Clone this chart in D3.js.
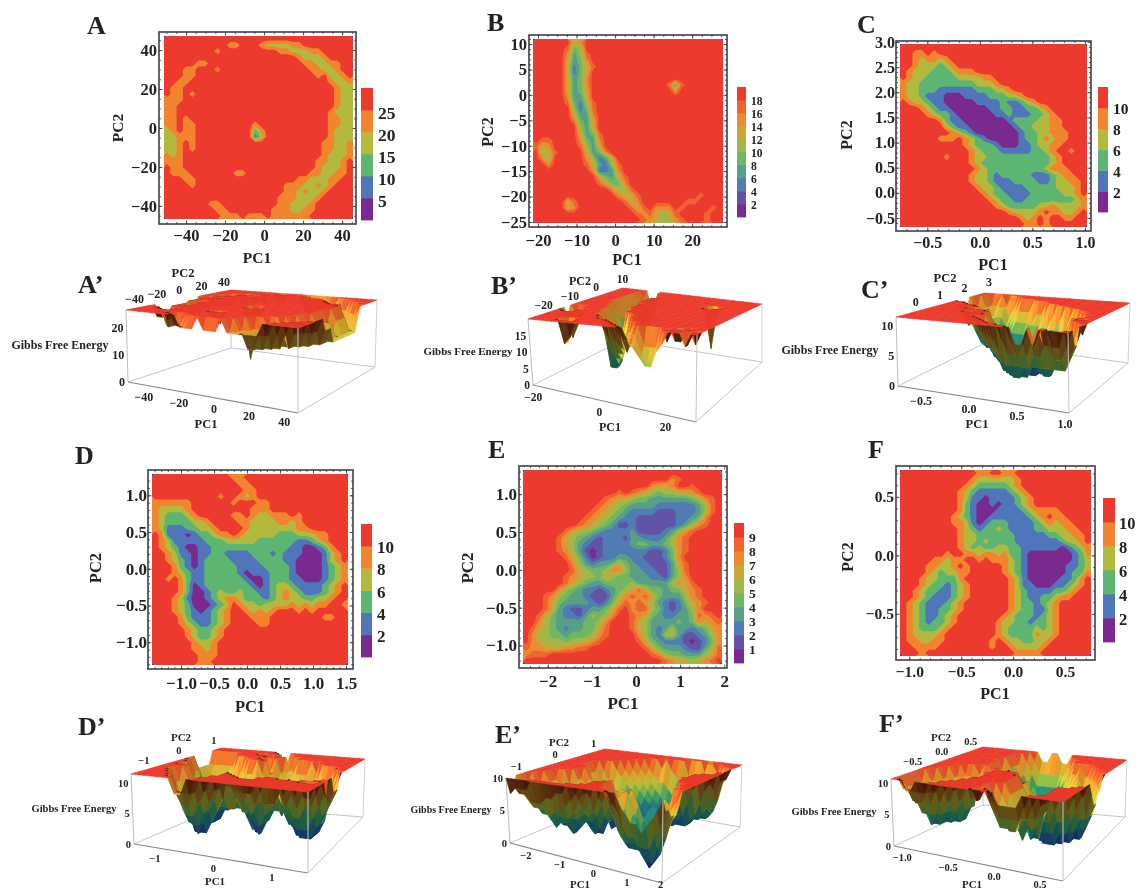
<!DOCTYPE html>
<html>
<head>
<meta charset="utf-8">
<script src="https://cdn.jsdelivr.net/npm/d3@7"></script>
<style>
  html, body { margin: 0; padding: 0; background: #fff; overflow: hidden; }
  text { font-family: "Liberation Serif", serif; font-weight: bold; fill: #222; }
  .tick line { stroke: #333; stroke-width: 0.8; }
</style>
</head>
<body>
<svg id="fig" width="1136" height="889"></svg>
<script>
// free energy landscapes, one row per line of the map, top row first.
// each digit is the colour band of that cell (0 = lowest), spaces are only for counting.
var gridA = [
"55555 55555 55555 55555 55555 55555",
"55555 55555 44555 43333 44555 55555",
"55555 55545 55555 55544 33344 55555",
"55555 55555 55555 55555 54333 45555",
"55555 44555 55555 55555 55443 34455",
"55544 55545 55555 55555 55544 33455",
"55544 55555 55555 55555 55554 53345",
"55445 55555 55555 55555 55555 54334",
"54455 55555 55555 55555 55555 55433",
"54454 55555 55555 55555 55555 55433",
"44455 55555 55555 55555 55555 55433",
"44555 55555 55555 55555 55555 55433",
"44555 55555 55555 55555 55555 54333",
"44545 55555 55555 55555 55555 54433",
"44544 55555 55554 55555 55555 54433",
"34544 55555 55552 45555 55555 54333",
"33444 55555 55551 35555 55555 54333",
"33454 55555 55555 55555 55555 44334",
"33454 55555 55555 55555 55555 44334",
"43455 55555 55555 55555 55555 43334",
"44455 55555 55555 55555 55554 43345",
"54455 55555 55555 55555 55554 33345",
"54445 55555 54455 55555 55544 33445",
"55544 55555 55555 55555 54433 34455",
"55554 55555 55555 55554 44334 34555",
"55555 55555 55555 55554 43433 45555",
"55555 55555 55555 55544 43334 55555",
"55555 55445 55555 55544 33345 55555",
"55555 55544 55555 55444 33445 55555",
"55555 55554 44544 45444 44455 55555"
];
var gridB = [
"99999 96799 99999 99999 99999 99999",
"99999 84599 99999 99999 99999 99999",
"99999 73589 99999 99999 99999 99999",
"99999 63479 99999 99999 99999 99999",
"99999 62468 99999 99999 99999 99999",
"99999 62469 99999 99999 99999 99999",
"99999 63479 99999 99999 99999 99999",
"99999 63479 99999 99999 98389 99999",
"99999 63469 99999 99999 99799 99999",
"99999 73369 99999 99999 99999 99999",
"99999 84258 99999 99999 99999 99999",
"99999 95248 99999 99999 99999 99999",
"99999 96337 99999 99999 99999 99999",
"99999 98436 99999 99999 99999 99999",
"99999 99536 99999 99999 99999 99999",
"99999 99634 89999 99999 99999 99999",
"98899 99743 79999 99999 99999 99999",
"86799 99853 69999 99999 99999 99999",
"95689 99963 47999 99999 99999 99999",
"97599 99975 23699 99999 99999 99999",
"99799 99986 32589 99999 99999 99999",
"99999 99997 22379 99999 99999 99999",
"99999 99999 64368 99999 99999 99999",
"99999 99999 86447 99999 99999 99999",
"99999 99999 99755 89999 99999 99999",
"99999 99999 99976 68999 99999 98999",
"99999 68999 99998 67999 99998 89999",
"99999 67999 99999 86897 77989 99989",
"99999 99999 99999 98786 56899 99899",
"99999 99999 99999 99876 55789 99899"
];
var gridC = [
"55555 55555 55555 55555 55555 55555",
"55445 45555 55555 55555 55555 55555",
"55434 43455 55555 55555 55555 55555",
"55433 32345 55555 55555 55555 55555",
"54333 22234 44555 55555 55555 55555",
"54332 22223 33344 55555 55555 55555",
"43322 22222 22333 45555 55555 55555",
"43322 21111 11222 33455 55555 55555",
"43321 11000 11112 22334 55555 55555",
"54332 11000 00111 12112 34555 55555",
"55543 21100 00001 12211 22345 55555",
"55554 32210 00000 11211 12234 55555",
"55555 54211 00000 00122 22334 45555",
"55555 55321 10000 00012 23334 45555",
"55555 55543 21000 00001 22334 44555",
"55555 54445 43210 00001 22343 44555",
"55555 55555 43222 10001 12334 45555",
"55555 55555 54322 21111 12234 55455",
"55555 55455 54332 22222 22223 45555",
"55555 55555 54322 22222 22223 45555",
"55555 55555 55432 22222 22234 44555",
"55555 55555 54332 12222 21112 34455",
"55555 55555 54332 11122 22112 33445",
"55555 55555 55433 21111 22222 33345",
"55555 55555 55543 22111 12222 23345",
"55555 55555 55554 32211 22222 22234",
"55555 55555 55555 43222 22334 33334",
"55555 55555 55555 55433 33454 43345",
"55555 55555 55555 55554 34545 54455",
"55555 55555 55555 55555 44545 55555"
];
var gridD = [
"55555 55555 55445 55555 55555 55555",
"55555 55555 55544 55555 55555 55555",
"55555 55555 55554 45555 55555 55555",
"55555 55555 45543 45555 55555 55555",
"44444 45555 55455 54455 55555 55555",
"43333 45555 55555 44455 55555 55555",
"43222 34555 55445 43344 45455 55555",
"43222 23345 55544 33334 43455 55555",
"43111 22334 55554 33333 33445 55555",
"54111 01223 44543 33332 22333 44555",
"54311 11122 23333 32222 22112 34555",
"54321 00112 22222 22222 21100 12455",
"55431 10112 21111 22212 11100 01345",
"55432 10122 22111 12222 11000 01345",
"55542 10122 22211 11222 21000 01234",
"55543 21122 22210 11122 21000 01234",
"55454 21122 22221 00122 21100 01234",
"55554 20122 22222 10123 32111 12345",
"55554 20012 32232 21123 43211 12345",
"55543 10012 34432 22123 43322 33455",
"55543 20001 23543 32333 34343 44554",
"55543 21012 34554 34345 55454 55555",
"55554 21112 34555 44455 55555 54455",
"55554 32112 34555 54455 55555 55555",
"55555 43223 45555 55555 55555 55555",
"55555 43223 45555 55555 55555 55555",
"55555 54334 55555 55555 55555 55555",
"55555 54434 55555 55555 55555 55555",
"55555 55444 55555 55555 55555 55555",
"55555 55445 55555 55555 55555 55555"
];
var gridE = [
"99999 99999 99999 99999 99999 99999",
"99999 99999 99999 99999 99789 99999",
"99999 99999 99999 99997 66799 89999",
"99999 99999 99998 98765 45566 78999",
"99999 99999 99876 65443 33333 45789",
"99999 99999 98765 43333 22222 23589",
"99999 99999 87654 32222 11122 23589",
"99999 99998 76543 22111 11122 34799",
"99999 99987 65431 12111 11123 57899",
"99999 98655 43222 23111 12357 89999",
"99999 86543 21222 13322 23578 99999",
"99999 86532 11222 23443 34578 99999",
"99999 87531 01222 22221 12478 99999",
"99999 98642 01223 32211 12479 99999",
"99999 99753 23346 43221 11368 99999",
"99999 99865 44577 53322 11358 99999",
"99999 98765 54654 43332 21357 99999",
"99999 98654 33444 45333 33576 89999",
"99999 75432 21234 56864 43446 78999",
"99987 54332 11135 78786 43335 78999",
"99986 43333 21246 87875 32124 67899",
"99986 32112 33468 97885 42123 57999",
"99864 32213 54579 98764 32233 48789",
"99754 33334 45799 98653 33343 47678",
"98654 32334 46899 98653 23533 23467",
"97554 43444 57899 99753 25631 12357",
"97655 54556 78999 99864 32221 01247",
"87766 67788 99999 99986 43332 11358",
"78889 99999 99999 99998 75443 33568",
"99999 99999 99999 99999 98766 56789"
];
var gridF = [
"55555 55555 55445 54455 55555 55555",
"55555 55555 54333 33345 55555 55555",
"55555 55555 43222 22345 55555 55555",
"55555 55554 32111 11234 55555 55555",
"55555 55554 31101 11123 45555 55555",
"55555 55554 21001 01123 45555 55555",
"55555 55554 21000 11112 34444 55555",
"55555 55543 21001 11111 23454 45555",
"55555 55544 31012 22111 12343 44555",
"55555 55554 32122 32111 12233 34455",
"55555 55554 33222 22211 11122 33445",
"55555 55554 33232 22211 11111 23345",
"55555 55554 32322 33221 11111 01234",
"55555 55455 44344 34221 00000 00124",
"55555 44344 55454 44321 00000 00123",
"55554 43345 45555 54321 00000 01123",
"55554 32334 45555 54321 00000 01224",
"55543 32224 55555 55431 00000 11245",
"55543 22123 45555 55431 10001 12345",
"55432 21123 45555 55432 11112 23455",
"55432 11123 45555 55432 11223 44555",
"54321 11234 55555 55432 21234 55555",
"54321 12234 55555 55432 21134 55555",
"54321 12345 55555 54322 21234 55555",
"54321 22345 55555 43322 12234 55555",
"54322 23455 55555 43222 23234 55555",
"54333 34555 55555 43222 24334 55555",
"54433 44555 55554 54332 23345 55555",
"55444 45555 55554 55433 33455 55555",
"55545 55555 55555 55544 44555 55555"
];

// energy covered by one colour band
var bandStepA = 5, bandStepB = 2, bandStepC = 2, bandStepD = 2, bandStepE = 1, bandStepF = 2;

var legendA = [5, 10, 15, 20, 25];
var legendB = [2, 4, 6, 8, 10, 12, 14, 16, 18];
var legendC = [2, 4, 6, 8, 10];
var legendD = [2, 4, 6, 8, 10];
var legendE = [1, 2, 3, 4, 5, 6, 7, 8, 9];
var legendF = [2, 4, 6, 8, 10];

var xDomainA = [-51.3, 45.6], yDomainA = [-46.7, 47.2];
var xDomainB = [-21.3, 28], yDomainB = [-25.2, 11];
var xDomainC = [-0.76, 1.02], yDomainC = [-0.68, 2.96];
var xDomainD = [-1.44, 1.53], yDomainD = [-1.31, 1.29];
var xDomainE = [-2.56, 1.95], yDomainE = [-1.245, 1.32];
var xDomainF = [-1.09, 0.75], yDomainF = [-0.86, 0.73];

var xTicksA = [-40, -20, 0, 20, 40], yTicksA = [-40, -20, 0, 20, 40];
var xTicksB = [-20, -10, 0, 10, 20], yTicksB = [-25, -20, -15, -10, -5, 0, 5, 10];
var xTicksC = [-0.5, 0, 0.5, 1], yTicksC = [-0.5, 0, 0.5, 1, 1.5, 2, 2.5, 3];
var xTicksD = [-1, -0.5, 0, 0.5, 1, 1.5], yTicksD = [-1, -0.5, 0, 0.5, 1];
var xTicksE = [-2, -1, 0, 1, 2], yTicksE = [-1, -0.5, 0, 0.5, 1];
var xTicksF = [-1, -0.5, 0, 0.5], yTicksF = [-0.5, 0, 0.5];

// ticks of the 3d boxes
var pc1TicksA = [-40, -20, 0, 20, 40], pc2TicksA = [-40, -20, 0, 20, 40], zTicksA = [0, 10, 20];
var pc1TicksB = [-20, 0, 20], pc2TicksB = [-20, -10, 0, 10], zTicksB = [0, 5, 10, 15];
var pc1TicksC = [-0.5, 0, 0.5, 1], pc2TicksC = [0, 1, 2, 3], zTicksC = [0, 5, 10];
var pc1TicksD = [-1, 0, 1], pc2TicksD = [-1, 0, 1], zTicksD = [0, 5, 10];
var pc1TicksE = [-2, -1, 0, 1, 2], pc2TicksE = [-1, 0, 1], zTicksE = [0, 5, 10];
var pc1TicksF = [-1, -0.5, 0, 0.5], pc2TicksF = [-0.5, 0, 0.5], zTicksF = [0, 5, 10];

var zTopA = 26.7, zTopB = 20, zTopC = 11.5, zTopD = 11.5, zTopE = 10.1, zTopF = 10.8;

var maps = [
  {name: "A", grid: gridA, step: bandStepA, legend: legendA, xDomain: xDomainA, yDomain: yDomainA, xTicks: xTicksA, yTicks: yTicksA,
   xFmt: "d", yFmt: "d", minorX: 5, minorY: 5, red: [164, 36, 353, 219], frame: [159, 32, 356, 224], bar: [361, 88, 373, 220], barDy: 3, barFont: 17.5, barX: 378,
   font: 16.5, padX: 5, padY: 2, pc1: [257, 257], pc2: [117, 128], title: [87, 33], titleFont: 15.5},
  {name: "B", grid: gridB, step: bandStepB, legend: legendB, xDomain: xDomainB, yDomain: yDomainB, xTicks: xTicksB, yTicks: yTicksB,
   xFmt: "d", yFmt: "d", minorX: 2.5, minorY: 1, red: [533, 39, 723, 223], frame: [529, 35, 727, 227], bar: [737, 87, 746, 217], barDy: 1, barFont: 11.5, barX: 751,
   font: 16.5, padX: 7, padY: 2, pc1: [627, 259], pc2: [487, 132], title: [487, 30], titleFont: 16},
  {name: "C", grid: gridC, step: bandStepC, legend: legendC, xDomain: xDomainC, yDomain: yDomainC, xTicks: xTicksC, yTicks: yTicksC,
   xFmt: ".1f", yFmt: ".1f", minorX: 0.1, minorY: 0.1, red: [900, 44, 1087, 227], frame: [896, 41, 1091, 231], bar: [1098, 87, 1108, 212], barDy: 1, barFont: 15.5, barX: 1113,
   font: 16, padX: 6, padY: 1, pc1: [993, 264], pc2: [846, 135], title: [857, 32], titleFont: 16},
  {name: "D", grid: gridD, step: bandStepD, legend: legendD, xDomain: xDomainD, yDomain: yDomainD, xTicks: xTicksD, yTicks: yTicksD,
   xFmt: ".1f", yFmt: ".1f", minorX: 0.1, minorY: 0.1, red: [152, 474, 348, 665], frame: [148, 470, 353, 669], bar: [361, 524, 372, 657], barDy: 1.5, barFont: 17, barX: 377,
   font: 17, padX: 8, padY: 1, pc1: [250, 706], pc2: [95, 568], title: [75, 463], titleFont: 16.5},
  {name: "E", grid: gridE, step: bandStepE, legend: legendE, xDomain: xDomainE, yDomain: yDomainE, xTicks: xTicksE, yTicks: yTicksE,
   xFmt: "d", yFmt: ".1f", minorX: 0.2, minorY: 0.1, red: [523, 470, 722, 664], frame: [519, 466, 727, 668], bar: [734, 523, 744, 663], barDy: 0, barFont: 13.5, barX: 749,
   font: 17, padX: 7, padY: 2, pc1: [623, 703], pc2: [467, 568], title: [488, 457], titleFont: 17},
  {name: "F", grid: gridF, step: bandStepF, legend: legendF, xDomain: xDomainF, yDomain: yDomainF, xTicks: xTicksF, yTicks: yTicksF,
   xFmt: ".1f", yFmt: ".1f", minorX: 0.1, minorY: 0.1, red: [900, 470, 1091, 656], frame: [896, 466, 1095, 660], bar: [1103, 498, 1115, 642], barDy: 1, barFont: 16.5, barX: 1119,
   font: 15.5, padX: 6, padY: 2, pc1: [995, 693], pc2: [847, 557], title: [868, 457], titleFont: 16}
];

// corners of each box as [left, front, back, right]
var boxes = [
  {map: 0, name: "A\u2019", pc1Ticks: pc1TicksA, pc2Ticks: pc2TicksA, zTicks: zTicksA, zTop: zTopA, fmt1: "d", fmt2: "d", font: 12,
   top: [[126, 310], [298, 328], [231, 290], [377, 300]], bottom: [[128, 382], [298, 413], [231, 348], [375, 367]],
   off1: [-4, 11], off2: [1, -10], title: [78, 292], gibbs: [60, 345, 12], pc1: [206, 424], pc2: [183, 273]},
  {map: 1, name: "B\u2019", pc1Ticks: pc1TicksB, pc2Ticks: pc2TicksB, zTicks: zTicksB, zTop: zTopB, fmt1: "d", fmt2: "d", font: 11.5,
   top: [[528, 319], [697, 335], [623, 288], [762, 304]], bottom: [[533, 385], [696, 422], [623, 340], [762, 362]],
   off1: [-4, 11], off2: [2, -10], title: [491, 293], gibbs: [468, 351, 11], pc1: [610, 427], pc2: [580, 281]},
  {map: 2, name: "C\u2019", pc1Ticks: pc1TicksC, pc2Ticks: pc2TicksC, zTicks: zTicksC, zTop: zTopC, fmt1: ".1f", fmt2: "d", font: 12,
   top: [[896, 317], [1068, 333], [985, 293], [1130, 303]], bottom: [[898, 386], [1069, 413], [985, 343], [1128, 363]],
   off1: [-2, 11], off2: [3, -11], title: [861, 297], gibbs: [830, 350, 12], pc1: [977, 424], pc2: [945, 278]},
  {map: 3, name: "D\u2019", pc1Ticks: pc1TicksD, pc2Ticks: pc2TicksD, zTicks: zTicksD, zTop: zTopD, fmt1: "d", fmt2: "d", font: 10.5,
   top: [[131, 774], [308, 792], [222, 748], [365, 759]], bottom: [[134, 844], [308, 873], [222, 806], [363, 817]],
   off1: [-5, 10], off2: [2, -10], title: [78, 734], gibbs: [74, 808, 10.5], pc1: [215, 881], pc2: [181, 737]},
  {map: 4, name: "E\u2019", pc1Ticks: pc1TicksE, pc2Ticks: pc2TicksE, zTicks: zTicksE, zTop: zTopE, fmt1: "d", fmt2: "d", font: 10.5,
   top: [[506, 778], [663, 800], [605, 749], [742, 765]], bottom: [[510, 843], [662, 883], [605, 803], [740, 827]],
   off1: [-3, 8], off2: [1, -9], title: [495, 742], gibbs: [451, 809, 10], pc1: [580, 884], pc2: [559, 742]},
  {map: 5, name: "F\u2019", pc1Ticks: pc1TicksF, pc2Ticks: pc2TicksF, zTicks: zTicksF, zTop: zTopF, fmt1: ".1f", fmt2: ".1f", font: 10.5,
   top: [[891, 779], [1063, 802], [983, 747], [1127, 760]], bottom: [[894, 846], [1063, 881], [983, 805], [1125, 817]],
   off1: [0, 10], off2: [1, -10], title: [879, 731], gibbs: [834, 811, 10.5], pc1: [972, 884], pc2: [941, 737]}
];

var svg = d3.select("#fig");

var defs = svg.append("defs");
defs.append("filter").attr("id", "soft").append("feGaussianBlur").attr("stdDeviation", 0.55);
defs.append("filter").attr("id", "softText").append("feGaussianBlur").attr("stdDeviation", 0.3);

var page = svg.append("g").attr("filter", "url(#softText)");

// band colours of the flat maps
var bandColor = d3.scaleLinear()
    .domain([0, 0.2, 0.4, 0.6, 0.8, 1])
    .range(["#7a2a8e", "#4f74bb", "#5cb56f", "#b3b93e", "#f2842f", "#ec3a2e"]);

// height colours of the surfaces
var heightColor = d3.scaleLinear()
    .domain([0, 0.2, 0.42, 0.62, 0.82, 1])
    .range(["#1c0f6b", "#1f5f9e", "#2fa36b", "#c3cc3a", "#f6a02c", "#ec3a2b"]);

function parseGrid(rows) {
    return rows.map(function (row) {
        return row.replace(/ /g, "").split("").map(Number);
    });
}

function text(parent, x, y, str, size, anchor) {
    return parent.append("text")
        .attr("x", x).attr("y", y)
        .attr("font-size", size)
        .attr("text-anchor", anchor || "middle")
        .attr("dominant-baseline", "central")
        .text(str);
}

function minorTicks(domain, step) {
    var first = Math.ceil(domain[0] / step);
    var last = Math.floor(domain[1] / step);
    return d3.range(first, last + 1).map(function (k) { return k * step; });
}

function drawMap(m) {
    var g = page.append("g");
    var cells = parseGrid(m.grid);
    var rows = cells.length, cols = cells[0].length;
    var bands = m.legend.length + 1;

    var x = d3.scaleLinear().domain(m.xDomain).range([m.red[0], m.red[2]]);
    var y = d3.scaleLinear().domain(m.yDomain).range([m.red[3], m.red[1]]);

    g.append("rect")
        .attr("x", m.frame[0]).attr("y", m.frame[1])
        .attr("width", m.frame[2] - m.frame[0]).attr("height", m.frame[3] - m.frame[1])
        .attr("fill", "#fff");

    // contour bands, painted from the lowest up
    var energies = d3.merge(cells).map(function (d) { return (d + 0.5) * m.step; });
    var contours = d3.contours().size([cols, rows]).smooth(true).thresholds(m.legend)(energies);
    var gx = d3.scaleLinear().domain([0, cols]).range([m.red[0], m.red[2]]);
    var gy = d3.scaleLinear().domain([0, rows]).range([m.red[1], m.red[3]]);
    var path = d3.geoPath(d3.geoTransform({
        point: function (px, py) { this.stream.point(gx(px), gy(py)); }
    }));

    var marks = g.append("g").attr("filter", "url(#soft)");
    marks.append("rect")
        .attr("x", m.red[0]).attr("y", m.red[1])
        .attr("width", m.red[2] - m.red[0]).attr("height", m.red[3] - m.red[1])
        .attr("fill", bandColor(0));
    marks.selectAll("path").data(contours).enter().append("path")
        .attr("d", path)
        .attr("fill", function (d, i) { return bandColor((i + 1) / (bands - 1)); });

    // frame with inward ticks on the four sides
    var f = m.frame;
    function side(axisFn, scale, major, minor, tx, ty, fmt, pad) {
        var a = g.append("g").attr("transform", "translate(" + tx + "," + ty + ")");
        a.call(axisFn(scale).tickValues(minor).tickSize(-2).tickFormat(""));
        a.selectAll(".domain").remove();
        var b = g.append("g").attr("transform", "translate(" + tx + "," + ty + ")");
        b.call(axisFn(scale).tickValues(major).tickSize(-3.5).tickPadding(pad)
            .tickFormat(fmt ? d3.format(fmt) : ""));
        b.selectAll(".domain").remove();
        b.selectAll("text")
            .attr("font-size", m.font)
            .attr("font-family", "Liberation Serif")
            .attr("fill", "#222");
    }
    side(d3.axisBottom, x, m.xTicks, minorTicks(m.xDomain, m.minorX), 0, f[3], m.xFmt, m.padX);
    side(d3.axisTop, x, m.xTicks, minorTicks(m.xDomain, m.minorX), 0, f[1], null, 0);
    side(d3.axisLeft, y, m.yTicks, minorTicks(m.yDomain, m.minorY), f[0], 0, m.yFmt, m.padY);
    side(d3.axisRight, y, m.yTicks, minorTicks(m.yDomain, m.minorY), f[2], 0, null, 0);

    g.append("rect")
        .attr("x", f[0]).attr("y", f[1])
        .attr("width", f[2] - f[0]).attr("height", f[3] - f[1])
        .attr("fill", "none").attr("stroke", "#3c4048").attr("stroke-width", 1.6);

    // colour bar
    var barY = d3.scaleLinear().domain([0, bands]).range([m.bar[3], m.bar[1]]);
    g.append("g").attr("filter", "url(#soft)").selectAll("rect")
        .data(d3.range(bands)).enter().append("rect")
        .attr("x", m.bar[0]).attr("width", m.bar[2] - m.bar[0])
        .attr("y", function (d) { return barY(d + 1); })
        .attr("height", function (d) { return barY(d) - barY(d + 1) + 0.4; })
        .attr("fill", function (d) { return bandColor(d / (bands - 1)); });
    m.legend.forEach(function (v, i) {
        text(g, m.barX, barY(i + 1) + m.barDy, v, m.barFont, "start");
    });

    text(g, m.pc1[0], m.pc1[1], "PC1", m.titleFont);
    text(g, m.pc2[0], m.pc2[1], "PC2", m.titleFont)
        .attr("transform", "rotate(-90," + m.pc2[0] + "," + m.pc2[1] + ")");
    text(g, m.title[0], m.title[1] - 8, m.name, 26, "start");
}

function drawBox(b) {
    var m = maps[b.map];
    var g = page.append("g");
    var cells = parseGrid(m.grid);
    var rows = cells.length, cols = cells[0].length;
    var topBand = m.legend.length;

    var toU = d3.scaleLinear().domain(m.xDomain).range([0, 1]);
    var toV = d3.scaleLinear().domain(m.yDomain).range([0, 1]);
    var toW = d3.scaleLinear().domain([0, b.zTop]).range([0, 1]);

    function onQuad(q, u, v) {
        return [0, 1].map(function (k) {
            return (1 - u) * (1 - v) * q[0][k] + u * (1 - v) * q[1][k] + (1 - u) * v * q[2][k] + u * v * q[3][k];
        });
    }
    function project(u, v, w) {
        var lo = onQuad(b.bottom, u, v), hi = onQuad(b.top, u, v);
        return [lo[0] + (hi[0] - lo[0]) * w, lo[1] + (hi[1] - lo[1]) * w];
    }
    function edge(gr, p, q, color, width) {
        gr.append("line")
            .attr("x1", p[0]).attr("y1", p[1]).attr("x2", q[0]).attr("y2", q[1])
            .attr("stroke", color).attr("stroke-width", width);
    }

    // edges behind the surface
    edge(g, b.bottom[0], b.bottom[2], "#c4c4c4", 1);
    edge(g, b.bottom[2], b.bottom[3], "#c4c4c4", 1);
    edge(g, b.bottom[2], b.top[2], "#c4c4c4", 1);
    edge(g, b.top[0], b.bottom[0], "#bcbcbc", 1);

    var heights = cells.map(function (row) {
        return row.map(function (d) {
            return d === topBand ? b.zTop : (d + 0.5) * m.step;
        });
    });
    var pts = heights.map(function (row, r) {
        return row.map(function (z, c) {
            return project(c / (cols - 1), 1 - r / (rows - 1), toW(z));
        });
    });

    var quads = [];
    for (var r = 0; r < rows - 1; r++) {
        for (var c = 0; c < cols - 1; c++) {
            quads.push({r: r, c: c});
        }
    }
    // back corner first so that near cells paint over far ones
    quads.sort(function (p, q) { return (p.r + p.c) - (q.r + q.c); });

    var upSign = Math.sign(d3.polygonArea([project(0, 1, 1), project(1, 1, 1), project(1, 0, 1), project(0, 0, 1)]));

    var surface = g.append("g").attr("filter", "url(#soft)");
    surface.selectAll("path").data(quads).enter().append("path")
        .attr("d", function (d) {
            var s = [pts[d.r][d.c], pts[d.r][d.c + 1], pts[d.r + 1][d.c + 1], pts[d.r + 1][d.c]];
            d.fill = quadColor(d, s);
            return "M" + s.join("L") + "Z";
        })
        .attr("fill", function (d) { return d.fill; })
        .attr("stroke", function (d) { return d.fill; })
        .attr("stroke-width", 0.6);

    function quadColor(d, s) {
        var z = [heights[d.r][d.c], heights[d.r][d.c + 1], heights[d.r + 1][d.c + 1], heights[d.r + 1][d.c]];
        var w = toW(d3.mean(z));
        if (d3.min(z) === b.zTop) { return "#ec3a2b"; }
        var color = d3.color(heightColor(w));
        var a = d3.polygonArea(s);
        // underside of the plateau, seen through the front of a well. thin slivers dont count
        if (Math.sign(a) !== upSign && Math.abs(a) > 6) {
            return color.darker(1.1 + 2.4 * w * w).formatHex();
        }
        var slope = toW((z[1] + z[2]) / 2) - toW((z[0] + z[3]) / 2);
        return slope > 0 ? color.brighter(slope * 1.5).formatHex() : color.darker(-slope * 2).formatHex();
    }

    // edges in front
    edge(g, b.bottom[0], b.bottom[1], "#8a8a8a", 1.2);
    edge(g, b.bottom[1], b.bottom[3], "#c4c4c4", 1);
    edge(g, b.bottom[1], b.top[1], "#c4c4c4", 1);
    edge(g, b.bottom[3], b.top[3], "#d0d0d0", 1);

    b.pc1Ticks.forEach(function (v) {
        var p = project(toU(v), 0, 0);
        // the last labels of the bottom row would fall off the page
        text(g, p[0] + b.off1[0], Math.min(p[1] + b.off1[1], 884), d3.format(b.fmt1)(v), b.font);
    });
    b.pc2Ticks.forEach(function (v) {
        var p = project(0, toV(v), 1);
        text(g, p[0] + b.off2[0], p[1] + b.off2[1], d3.format(b.fmt2)(v), b.font);
    });
    b.zTicks.forEach(function (v) {
        var p = project(0, 0, toW(v));
        text(g, p[0] - 3, p[1], v, b.font, "end");
    });

    text(g, b.gibbs[0], b.gibbs[1], "Gibbs Free Energy", b.gibbs[2]);
    text(g, b.pc1[0], b.pc1[1], "PC1", b.font + 0.5);
    text(g, b.pc2[0], b.pc2[1], "PC2", b.font + 0.5);
    text(g, b.title[0], b.title[1] - 8, b.name, 26, "start");
}

maps.forEach(drawMap);
boxes.forEach(drawBox);
</script>
</body>
</html>
